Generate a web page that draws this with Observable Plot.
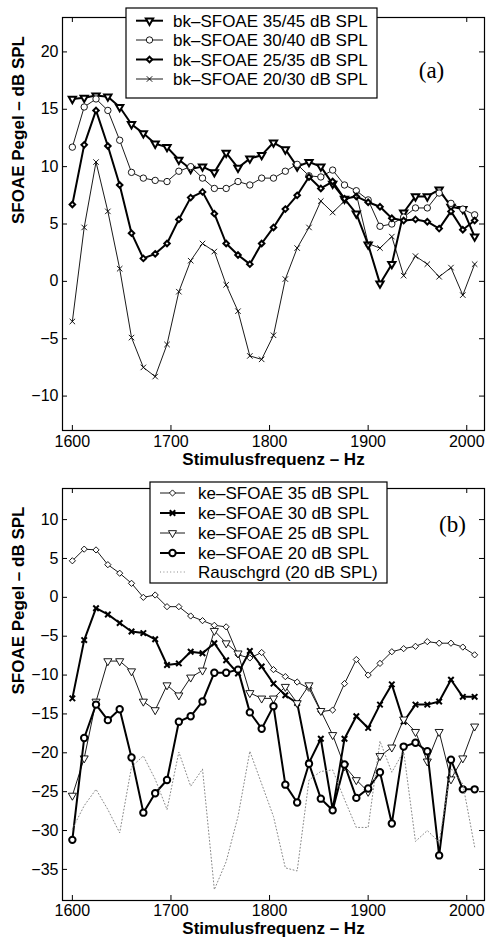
<!DOCTYPE html>
<html><head><meta charset="utf-8">
<script src="https://cdn.jsdelivr.net/npm/d3@7"></script>
<script src="https://cdn.jsdelivr.net/npm/@observablehq/plot@0.6"></script>
<style>
body{margin:0;background:#fff;}
#wrap{position:relative;width:486px;height:941px;font-family:"Liberation Sans",Arial,sans-serif;background:#fff;}
#wrap > svg{display:block;}
#overlay{position:absolute;left:0;top:0;pointer-events:none;}
</style></head><body><div id="wrap"></div>
<script>
// ---- data ----
const freq = [1600,1612,1624,1636,1648,1660,1672,1684,1696,1708,1720,1732,1744,1756,1768,1780,1792,1804,1816,1828,1840,1852,1864,1876,1888,1900,1912,1924,1936,1948,1960,1972,1984,1996,2008];
const xTicks = [1600,1700,1800,1900,2000];
const yTicksA = [-10,-5,0,5,10,15,20];
const yTicksB = [-35,-30,-25,-20,-15,-10,-5,0,5,10];

const bk3545 = [15.9,16.0,16.2,16.1,15.2,13.7,12.9,12.0,11.7,10.6,9.8,10.0,9.5,11.2,9.9,10.7,11.0,12.1,11.5,10.0,10.4,10.0,8.5,7.2,5.9,3.2,-0.2,1.5,6.0,7.4,7.4,8.0,6.5,6.3,3.9];
const bk3040 = [11.7,15.2,15.9,14.9,12.3,9.5,9.0,8.8,8.7,9.6,10.0,9.0,8.1,8.1,8.7,8.4,9.0,9.0,9.6,10.2,9.2,9.1,9.7,8.4,7.9,7.1,4.8,5.0,5.6,6.4,6.4,7.7,6.8,6.3,5.8];
const bk2535 = [6.7,11.9,14.9,11.8,8.4,4.2,2.0,2.4,3.3,5.4,7.3,7.8,5.9,3.3,2.3,1.5,3.3,4.7,6.3,7.5,9.1,8.1,8.7,7.2,7.4,6.9,6.5,5.5,5.3,5.4,5.2,4.6,6.1,4.5,5.3];
const bk2030 = [-3.5,4.7,10.4,6.1,1.1,-4.9,-7.5,-8.3,-5.5,-0.9,1.8,3.3,2.6,-0.3,-2.6,-6.5,-6.8,-4.7,0.2,2.9,4.7,7.0,6.0,7.0,7.6,3.3,2.9,3.9,0.5,2.2,1.5,0.4,1.2,-1.2,1.5];

const ke35 = [4.7,6.2,6.1,4.2,3.1,1.8,0.0,0.3,-1.2,-1.2,-2.4,-3.0,-3.6,-3.8,-7.4,-7.8,-7.1,-9.3,-10.2,-10.9,-11.7,-14.7,-14.5,-11.1,-8.0,-10.0,-8.5,-7.0,-6.6,-6.3,-5.7,-5.9,-5.9,-6.4,-7.4];
const ke30 = [-13.0,-5.5,-1.4,-2.2,-3.3,-4.4,-4.6,-5.4,-8.7,-8.5,-7.0,-7.2,-5.9,-8.1,-9.8,-6.9,-8.9,-11.1,-12.6,-13.6,-21.3,-18.2,-27.3,-18.2,-15.3,-16.8,-13.8,-11.2,-16.0,-13.8,-13.8,-13.4,-10.6,-12.8,-12.8];
const ke25 = [-25.5,-20.7,-13.4,-8.2,-8.2,-9.5,-13.4,-14.5,-11.3,-12.6,-10.3,-9.4,-4.3,-5.9,-7.2,-12.3,-13.0,-13.0,-11.5,-13.6,-11.3,-14.6,-17.7,-21.7,-23.5,-25.0,-20.4,-19.3,-15.7,-17.3,-21.1,-17.3,-23.4,-20.7,-16.6];
const ke20 = [-31.2,-18.1,-13.8,-15.8,-14.4,-20.6,-27.7,-25.2,-23.5,-16.0,-15.3,-13.4,-9.7,-9.7,-9.3,-14.8,-16.9,-14.0,-24.1,-26.4,-21.4,-25.9,-27.4,-21.5,-25.8,-24.6,-22.5,-29.1,-19.2,-18.7,-19.8,-33.2,-20.9,-24.7,-24.7];
const rausch = [-29.8,-26.8,-24.7,-27.3,-30.3,-21.8,-20.4,-23.4,-27.3,-19.9,-24.3,-22.1,-37.6,-34.0,-28.2,-19.8,-24.0,-28.2,-34.8,-35.2,-23.5,-22.4,-22.2,-26.0,-29.6,-29.6,-18.5,-22.5,-19.8,-31.4,-30.0,-31.5,-22.0,-24.0,-32.1];

const labelsA = ["bk\u2013SFOAE 35/45 dB SPL","bk\u2013SFOAE 30/40 dB SPL","bk\u2013SFOAE 25/35 dB SPL","bk\u2013SFOAE 20/30 dB SPL"];
const labelsB = ["ke\u2013SFOAE 35 dB SPL","ke\u2013SFOAE 30 dB SPL","ke\u2013SFOAE 25 dB SPL","ke\u2013SFOAE 20 dB SPL","Rauschgrd (20 dB SPL)"];

// ---- styles ----
const seriesA = [
  {values: bk3545, lw: 2, symbol: "triangle", rotate: 180, r: 2.7, mw: 2},
  {values: bk3040, lw: 0.9, symbol: "circle", r: 3.2, mw: 0.9},
  {values: bk2535, lw: 2, symbol: "diamond2", r: 2.5, mw: 2},
  {values: bk2030, lw: 0.9, symbol: "times", r: 2.6, mw: 0.9}
];
const seriesB = [
  {values: ke35, lw: 0.9, symbol: "diamond2", r: 2.8, mw: 0.9},
  {values: ke30, lw: 2, symbol: "times", r: 2.6, mw: 2},
  {values: ke25, lw: 0.9, symbol: "triangle", rotate: 180, r: 3.0, mw: 0.9},
  {values: ke20, lw: 2, symbol: "circle", r: 3.2, mw: 2},
  {values: rausch, lw: 1, color: "#888", dash: "1,2.4"}
];

const W = 486, ML = 62, MR = 2;
const FONT = "'Liberation Sans', Arial, sans-serif";
const fmt = d3.format("d");

function panel({series, yDomain, yTicks, height, mt, mb, tag, tagDx, tagDy, tickPad, titleDy}) {
  const fw = W - ML - MR, fh = height - mt - mb;
  const marks = [];
  for (const s of series) {
    const data = freq.map((f, i) => ({f, v: s.values[i]}));
    marks.push(Plot.line(data, {x: "f", y: "v", stroke: s.color || "black", strokeWidth: s.lw, strokeDasharray: s.dash}));
    if (s.symbol) marks.push(Plot.dot(data, {x: "f", y: "v", symbol: s.symbol, r: s.r, rotate: s.rotate || 0, fill: "white", stroke: "black", strokeWidth: s.mw}));
  }
  // inward ticks on all four sides
  marks.push(Plot.tickX(xTicks, {x: d => d, insetTop: fh - 5, stroke: "black"}));
  marks.push(Plot.tickX(xTicks, {x: d => d, insetBottom: fh - 5, stroke: "black"}));
  marks.push(Plot.tickY(yTicks, {y: d => d, insetRight: fw - 5, stroke: "black"}));
  marks.push(Plot.tickY(yTicks, {y: d => d, insetLeft: fw - 5, stroke: "black"}));
  marks.push(Plot.axisX(xTicks, {tickSize: 0, tickPadding: tickPad, fontSize: 16, label: null, tickFormat: fmt}));
  marks.push(Plot.axisY(yTicks, {tickSize: 0, tickPadding: 4, fontSize: 16, label: null, tickFormat: fmt}));
  marks.push(Plot.frame({stroke: "black", strokeWidth: 1.2}));
  marks.push(Plot.text(["Stimulusfrequenz \u2013 Hz"], {frameAnchor: "bottom", dy: titleDy, fontSize: 17, fontWeight: "bold", fill: "black"}));
  marks.push(Plot.text(["SFOAE Pegel \u2013 dB SPL"], {frameAnchor: "left", dx: -44, rotate: -90, fontSize: 17, fontWeight: "bold", fill: "black"}));
  marks.push(Plot.text([tag], {frameAnchor: "top-right", dx: tagDx, dy: tagDy, fontSize: 23, fontFamily: "'Liberation Serif', 'Times New Roman', serif", fill: "black", textAnchor: "middle"}));
  return Plot.plot({
    width: W, height,
    marginLeft: ML, marginRight: MR, marginTop: mt, marginBottom: mb,
    x: {domain: [1590, 2018]},
    y: {domain: yDomain},
    style: {fontFamily: FONT, fontSize: "16px", color: "black", background: "white", overflow: "visible"},
    marks
  });
}

const wrap = document.getElementById("wrap");
wrap.appendChild(panel({series: seriesA, yDomain: [-13, 23], yTicks: yTicksA, height: 470, mt: 17, mb: 40, tag: "(a)", tagDx: -53, tagDy: 44, tickPad: 5, titleDy: 34}));
wrap.appendChild(panel({series: seriesB, yDomain: [-39, 14], yTicks: yTicksB, height: 471, mt: 18, mb: 41, tag: "(b)", tagDx: -32, tagDy: 27, tickPad: 4, titleDy: 33}));

// ---- legends (overlay) ----
const ov = d3.select(wrap).append("svg").attr("id", "overlay").attr("width", W).attr("height", 941);
function legend({box, rows, lineX, markX, textX, labels, series}) {
  const g = ov.append("g");
  g.append("rect").attr("x", box[0]).attr("y", box[1]).attr("width", box[2]).attr("height", box[3])
    .attr("fill", "white").attr("stroke", "black").attr("stroke-width", 1.2);
  const symMap = {triangle: d3.symbolTriangle, circle: d3.symbolCircle, diamond2: d3.symbolDiamond2, times: d3.symbolTimes};
  series.forEach((s, i) => {
    const y = rows[i];
    g.append("line").attr("x1", lineX[0]).attr("x2", lineX[1]).attr("y1", y).attr("y2", y)
      .attr("stroke", s.color || "black").attr("stroke-width", s.lw).attr("stroke-dasharray", s.dash || null);
    if (s.symbol) {
      g.append("path").attr("d", d3.symbol(symMap[s.symbol], Math.PI * s.r * s.r)())
        .attr("transform", `translate(${markX},${y}) rotate(${s.rotate || 0})`)
        .attr("fill", "white").attr("stroke", "black").attr("stroke-width", s.mw);
    }
    g.append("text").attr("x", textX).attr("y", y).attr("dy", "0.36em").attr("font-size", 17)
      .attr("font-family", FONT).attr("fill", "black").text(labels[i]);
  });
}
legend({box: [126, 8, 251, 90], rows: [20.7, 40, 59.5, 79], lineX: [136, 163], markX: 149.5, textX: 173, labels: labelsA, series: seriesA});
legend({box: [150, 482, 237, 101], rows: [493, 513, 533, 553, 572], lineX: [160, 185], markX: 172.5, textX: 198, labels: labelsB, series: seriesB});
</script>
</body></html>
